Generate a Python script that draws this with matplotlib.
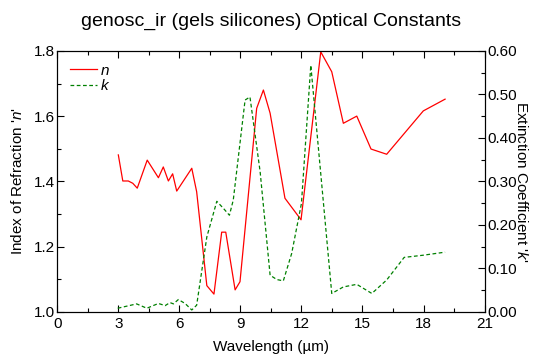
import numpy as np
import matplotlib.pyplot as plt
from matplotlib.ticker import MultipleLocator

plt.rcParams['font.family'] = ['Liberation Sans', 'DejaVu Sans']
plt.rcParams['mathtext.fontset'] = 'custom'
plt.rcParams['mathtext.it'] = 'Liberation Sans:italic'
plt.rcParams['mathtext.rm'] = 'Liberation Sans'

# refractive index n
wl_n = [3.0, 3.22, 3.49, 3.71, 3.93, 4.42, 4.97, 5.21, 5.46, 5.67, 5.87,
        6.61, 6.85, 7.35, 7.70, 8.08, 8.28, 8.74, 8.98, 9.80, 10.13, 10.46,
        11.19, 11.98, 12.95, 13.49, 14.06, 14.72, 15.42, 16.19, 17.99, 19.06]
n_vals = [1.481, 1.401, 1.401, 1.394, 1.379, 1.465, 1.411, 1.444, 1.401,
          1.423, 1.370, 1.440, 1.368, 1.080, 1.054, 1.244, 1.244, 1.067,
          1.092, 1.624, 1.680, 1.609, 1.348, 1.282, 1.797, 1.736, 1.578,
          1.600, 1.499, 1.483, 1.616, 1.652]

# extinction coefficient k
wl_k = [2.97, 3.90, 4.40, 4.97, 5.30, 5.54, 5.71, 5.95, 6.28, 6.61, 6.85,
        7.35, 7.84, 8.16, 8.46, 8.65, 9.23, 9.47, 9.97, 10.46, 10.79, 11.11,
        11.52, 12.00, 12.46, 13.49, 14.06, 14.72, 15.46, 16.19, 17.05, 17.99,
        19.06]
k_vals = [0.008, 0.018, 0.008, 0.019, 0.014, 0.021, 0.018, 0.028, 0.019,
          0.004, 0.015, 0.172, 0.254, 0.238, 0.222, 0.257, 0.487, 0.494,
          0.322, 0.084, 0.074, 0.071, 0.134, 0.249, 0.567, 0.042, 0.057,
          0.063, 0.042, 0.073, 0.125, 0.130, 0.137]

fig = plt.figure(figsize=(5.42, 3.56), dpi=100)
ax = fig.add_axes([0.1057, 0.1244, 0.7883, 0.7326])
ax2 = ax.twinx()

ln1, = ax.plot(wl_n, n_vals, color='#ff0000', lw=0.9, label='n')
ln2, = ax2.plot(wl_k, k_vals, color='#008000', lw=0.9, ls=(0, (3, 2)), label='k')

ax.set_xlim(0, 21)
ax.set_ylim(1.0, 1.8)
ax2.set_ylim(0, 0.6)

ax.xaxis.set_major_locator(MultipleLocator(3))
ax.xaxis.set_minor_locator(MultipleLocator(1.5))
ax.yaxis.set_minor_locator(MultipleLocator(0.1))
ax2.yaxis.set_minor_locator(MultipleLocator(0.05))

ax.set_yticks([1.0, 1.2, 1.4, 1.6, 1.8])
ax.set_yticklabels(['1.0', '1.2', '1.4', '1.6', '1.8'])
ax2.set_yticks([0, 0.1, 0.2, 0.3, 0.4, 0.5, 0.6])
ax2.set_yticklabels(['0.00', '0.10', '0.20', '0.30', '0.40', '0.50', '0.60'])

ax.tick_params(axis='x', which='both', direction='in', top=True, labelsize=11, pad=4)
ax.tick_params(axis='y', which='both', direction='in', right=False, labelsize=11, pad=2)
ax.tick_params(which='major', length=5, width=0.8)
ax.tick_params(which='minor', length=3, width=0.8)
ax2.tick_params(which='both', direction='in', labelsize=11, pad=2)
ax2.tick_params(which='major', length=5, width=0.8)
ax2.tick_params(which='minor', length=3, width=0.8)

ax.set_xlabel('Wavelength (µm)', fontsize=11, labelpad=6)
ax.set_ylabel("Index of Refraction '$\\it{n}$'", fontsize=11, labelpad=6)
ax2.set_ylabel("Extinction Coefficient '$\\it{k}$'", fontsize=11, rotation=270, labelpad=9)
ax.set_title('genosc_ir (gels silicones) Optical Constants', fontsize=14, pad=18)

leg = ax.legend([ln1, ln2], ['n', 'k'], loc='upper left',
                bbox_to_anchor=(0.015, 0.975), frameon=False,
                prop={'size': 11, 'style': 'italic'},
                handlelength=1.8, borderaxespad=0.0, labelspacing=0.1,
                handletextpad=0.25)

fig.savefig('out.png', dpi=100)
